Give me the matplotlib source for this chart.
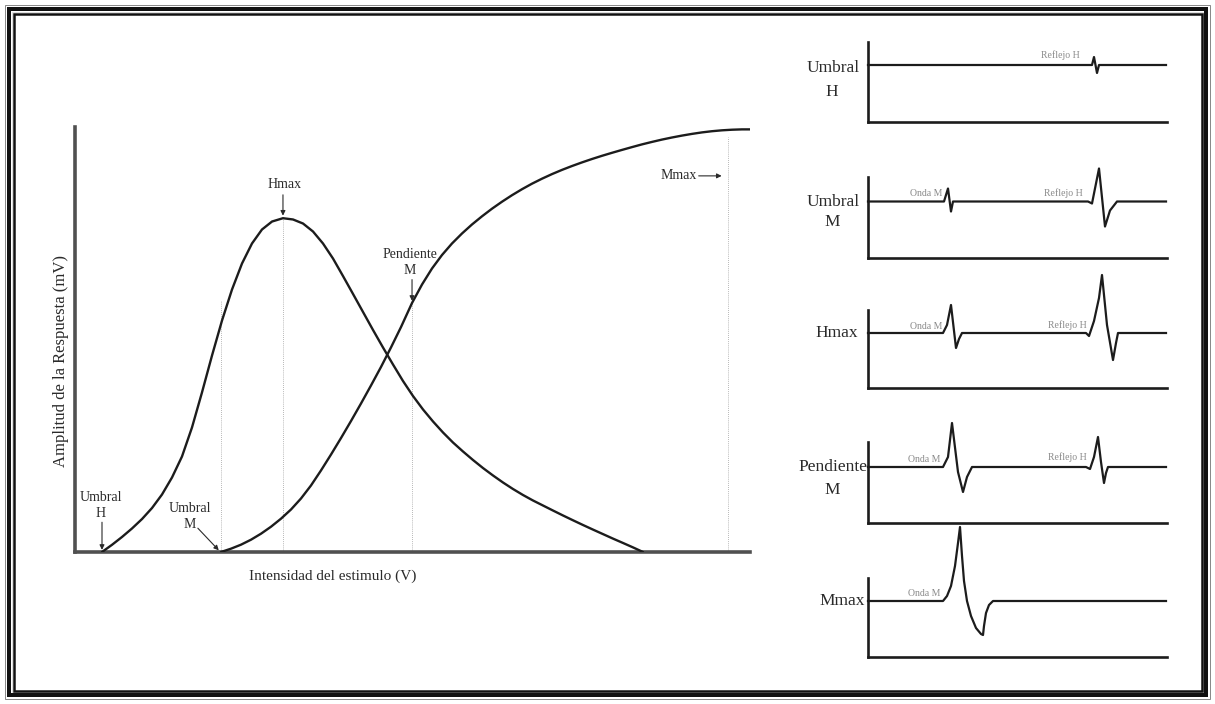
import matplotlib
matplotlib.use("Agg")
import matplotlib.pyplot as plt
from matplotlib.patches import Rectangle

plt.rcParams["font.family"] = ["Liberation Serif", "DejaVu Serif"]

W, H = 1215, 704
DPI = 100

# ---------------- recruitment curves (intensity 0-100, amplitude 0-100) ----------------
h_int = [4.00, 5.48, 6.96, 8.44, 9.93, 11.41, 12.89, 14.37, 15.85, 17.33, 18.81, 20.30,
         21.78, 23.26, 24.74, 26.22, 27.70, 29.19, 30.81, 32.30, 33.78, 35.26, 36.74,
         38.22, 39.70, 41.19, 42.67, 44.15, 45.63, 47.11, 48.59, 50.07, 51.56, 53.04,
         54.52, 56.00, 57.48, 58.96, 60.44, 61.93, 63.41, 64.89, 66.37, 67.85, 69.33,
         70.81, 72.30, 73.78, 75.26, 76.74, 78.22, 79.70, 81.19, 82.67, 84.15]
h_amp = [0.00, 1.69, 3.53, 5.53, 7.76, 10.35, 13.53, 17.53, 22.47, 29.29, 37.53, 46.24,
         54.47, 61.76, 67.88, 72.59, 75.88, 77.76, 78.54, 78.24, 77.29, 75.41, 72.59,
         69.06, 64.94, 60.71, 56.47, 52.24, 48.12, 44.12, 40.24, 36.71, 33.53, 30.71,
         28.12, 25.76, 23.65, 21.65, 19.76, 18.00, 16.35, 14.82, 13.41, 12.12, 10.94,
         9.76, 8.59, 7.46, 6.35, 5.27, 4.21, 3.15, 2.12, 1.08, 0.00]

m_int = [21.63, 23.11, 24.59, 26.07, 27.56, 29.04, 30.52, 32.00, 33.48, 34.96, 36.44,
         37.93, 39.41, 40.89, 42.37, 43.85, 45.33, 46.81, 48.30, 49.93, 51.41, 52.89,
         54.37, 55.85, 57.33, 58.81, 60.30, 61.78, 63.26, 64.74, 66.22, 67.70, 69.19,
         70.67, 72.15, 73.63, 75.11, 76.59, 78.07, 79.56, 81.04, 82.52, 84.00, 85.48,
         86.96, 88.44, 89.93, 91.41, 92.89, 94.37, 95.85, 97.33, 98.81, 100.00]
m_amp = [0.00, 0.78, 1.72, 2.89, 4.31, 5.95, 7.84, 10.00, 12.59, 15.65, 19.18,
         22.94, 26.82, 30.82, 34.94, 39.18, 43.53, 48.12, 52.94, 58.59, 62.94, 66.71,
         69.88, 72.59, 74.94, 77.06, 78.99, 80.78, 82.42, 83.95, 85.36, 86.66, 87.84,
         88.92, 89.91, 90.82, 91.67, 92.47, 93.22, 93.93, 94.61, 95.27, 95.91, 96.49,
         97.04, 97.53, 97.98, 98.38, 98.73, 99.01, 99.22, 99.36, 99.44, 99.44]

# reference points on the intensity axis: (intensity, height of guide line)
umbral_h = 4.0
umbral_m = (21.6, 59.0)
hmax = (30.81, 78.54)
pendiente_m = (49.93, 58.59)
mmax = (96.7, 97.6)
mmax_arrow_level = 88.5

# ---------------- EMG traces (time 0-298, amplitude relative to baseline) ----------------
panel_titles = [("Umbral", "H"), ("Umbral", "M"), ("Hmax", None), ("Pendiente", "M"), ("Mmax", None)]

t1 = [0, 224, 226, 229, 231, 298]
a1 = [0, 0, 8, -8, 0, 0]

t2 = [0, 76, 80, 83, 85, 220, 224, 231, 237, 242, 249, 298]
a2 = [0, 0, 13, -10, 0, 0, -2, 33, -25, -9, 0, 0]

t3 = [0, 75, 79, 83, 88, 91, 94, 218, 221, 226, 231, 234, 239, 245, 248, 250, 298]
a3 = [0, 0, 8, 28, -15, -6, 0, 0, -3, 12, 35, 58, 8, -27, -10, 0, 0]

t4 = [0, 75, 80, 84, 90, 95, 99, 104, 218, 222, 226, 230, 233, 236, 238, 240, 298]
a4 = [0, 0, 10, 44, -5, -25, -10, 0, 0, -2, 10, 30, 5, -16, -6, 0, 0]

t5 = [0, 75, 79, 83, 87, 90, 92, 94, 96, 99, 103, 108, 113, 115, 116, 118, 121, 125, 298]
a5 = [0, 0, 5, 15, 35, 58, 74, 45, 20, 0, -15, -27, -33, -34, -25, -12, -4, 0, 0]

traces = [(t1, a1), (t2, a2), (t3, a3), (t4, a4), (t5, a5)]

# small wave tags: (right edge time, height)
onda_tags = [None, (74, 7.5), (74, 6.5), (72, 7.5), (72, 8)]
reflejo_tags = [(212, 10), (215, 8.5), (219, 8), (219, 10), None]

fig = plt.figure(figsize=(W / DPI, H / DPI), dpi=DPI)
fig.patch.set_facecolor("white")


def fx(px):
    return px / W


def fy(py):
    return 1 - py / H


INK = "#1c1c1c"
TEXT = "#2a2a2a"

# ---------------- left panel ----------------
ax = fig.add_axes([fx(75), fy(552), fx(750) - fx(75), fy(127) - fy(552)])
ax.set_xlim(0, 100)
ax.set_ylim(0, 100)
for s in ("top", "right"):
    ax.spines[s].set_visible(False)
for s in ("left", "bottom"):
    ax.spines[s].set_linewidth(2.6)
    ax.spines[s].set_color("#505050")
ax.set_xticks([])
ax.set_yticks([])

ax.plot(h_int, h_amp, color=INK, lw=1.7, solid_capstyle="round", solid_joinstyle="round", zorder=3)
ax.plot(m_int, m_amp, color=INK, lw=1.7, solid_capstyle="round", solid_joinstyle="round", zorder=3)

for xg, yg in (umbral_m, hmax, pendiente_m, mmax):
    ax.plot([xg, xg], [0, yg], color="#a0a0a0", lw=0.6, ls=(0, (1, 1.5)), zorder=1)

ax.text(0.382, -0.0565, "Intensidad del estimulo (V)", transform=ax.transAxes,
        ha="center", va="center", fontsize=11, color=TEXT)
ax.text(-0.021, 0.45, "Amplitud de la Respuesta (mV)", transform=ax.transAxes,
        ha="center", va="center", rotation=90, fontsize=12, color=TEXT)

arrow = dict(arrowstyle="-|>", lw=0.8, color=TEXT, mutation_scale=7, shrinkA=0, shrinkB=0)
txt = dict(fontsize=10, color=TEXT, ha="center", linespacing=1.25)

ax.annotate("", xy=(hmax[0], hmax[1] + 0.6), xytext=(hmax[0], hmax[1] + 5.5), arrowprops=arrow)
ax.text(hmax[0] + 0.2, hmax[1] + 6.5, "Hmax", va="bottom", **txt)

ax.annotate("", xy=(pendiente_m[0], pendiente_m[1] + 0.5),
            xytext=(pendiente_m[0], pendiente_m[1] + 5.5), arrowprops=arrow)
ax.text(pendiente_m[0] - 0.3, pendiente_m[1] + 6.2, "Pendiente\nM", va="bottom", **txt)

ax.annotate("", xy=(mmax[0] - 0.9, mmax_arrow_level), xytext=(mmax[0] - 4.3, mmax_arrow_level),
            arrowprops=arrow)
ax.text(mmax[0] - 4.5, mmax_arrow_level, "Mmax", va="center", ha="right", fontsize=10, color=TEXT)

ax.annotate("", xy=(umbral_h, 0.5), xytext=(umbral_h, 7.0), arrowprops=arrow)
ax.text(umbral_h - 0.2, 7.6, "Umbral\nH", va="bottom", **txt)

ax.annotate("", xy=(umbral_m[0] - 0.3, 0.4), xytext=(umbral_m[0] - 3.4, 5.6), arrowprops=arrow)
ax.text(umbral_m[0] - 4.6, 5.0, "Umbral\nM", va="bottom", **txt)

# ---------------- right panels ----------------
panel_px = [(42, 65, 122), (177, 201.5, 258), (310, 333, 388), (442, 467, 523), (578, 601, 657)]
title_offsets = [(-3, -27), (0, -21), (0, None), (0, -23), (0, None)]
for i, ((t, a), (ytop, ybase, ybot)) in enumerate(zip(traces, panel_px)):
    pax = fig.add_axes([fx(868), fy(ybot), fx(1167) - fx(868), fy(ytop) - fy(ybot)])
    pax.set_xlim(0, 299)
    pax.set_ylim(-(ybot - ybase), ybase - ytop)
    pax.patch.set_alpha(0)
    for s in ("top", "right"):
        pax.spines[s].set_visible(False)
    for s in ("left", "bottom"):
        pax.spines[s].set_linewidth(1.9)
        pax.spines[s].set_color(INK)
    pax.set_xticks([])
    pax.set_yticks([])
    pax.plot(t, a, color=INK, lw=1.6, clip_on=False, zorder=3, solid_joinstyle="round")

    first, second = panel_titles[i]
    y1, y2 = title_offsets[i]
    if second is not None:
        pax.text(-35, y1, first, ha="center", va="center", fontsize=12.5, color=TEXT, clip_on=False)
        pax.text(-36, y2, second, ha="center", va="center", fontsize=12.5, color=TEXT, clip_on=False)
    else:
        right = -10 if first == "Hmax" else -3
        pax.text(right, y1, first, ha="right", va="center", fontsize=12.5, color=TEXT, clip_on=False)

    if onda_tags[i] is not None:
        tx, ty = onda_tags[i]
        pax.text(tx, ty, "Onda M", ha="right", va="center", fontsize=7,
                 color="#8a8a8a", clip_on=False)
    if reflejo_tags[i] is not None:
        tx, ty = reflejo_tags[i]
        pax.text(tx, ty, "Reflejo H", ha="right", va="center", fontsize=7,
                 color="#8a8a8a", clip_on=False)


# ---------------- frame ----------------
def frame(inset, lw, color):
    fig.add_artist(Rectangle((fx(inset), fy(H - inset)), fx(W - 2 * inset), fy(inset) - fy(H - inset),
                             transform=fig.transFigure, fill=False, lw=lw * 72 / DPI,
                             edgecolor=color, zorder=10))


frame(5, 1.0, "#8a8a8a")
frame(9, 4.0, "#111111")
frame(11.8, 1.0, "#dddddd")
frame(13.5, 2.5, "#111111")

fig.savefig("out.png", dpi=DPI, facecolor="white")
